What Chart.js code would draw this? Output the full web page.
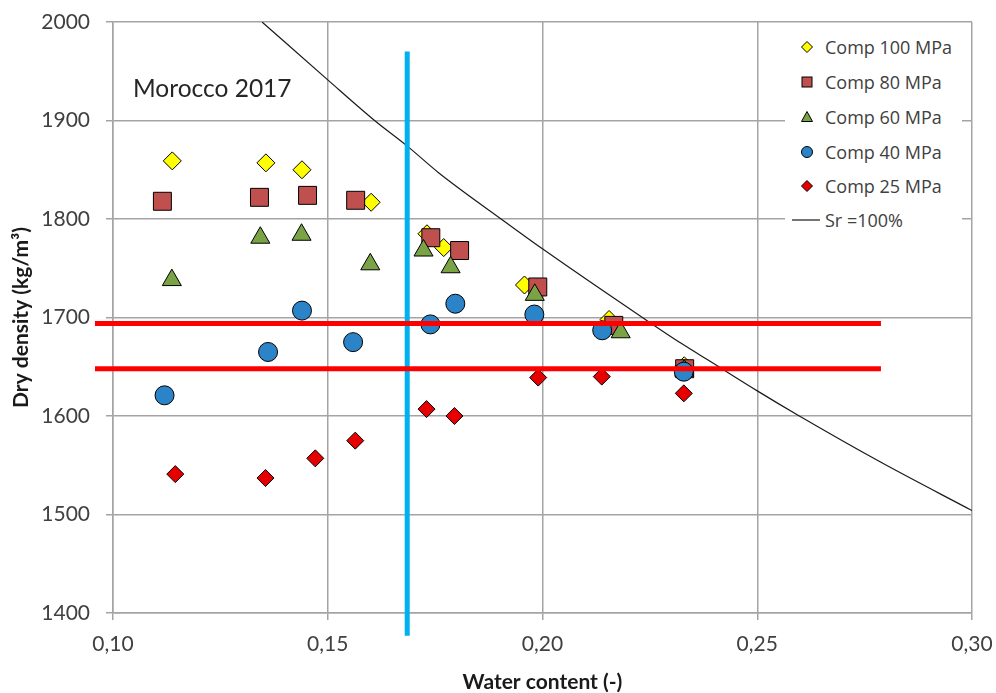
<!DOCTYPE html>
<html><head><meta charset="utf-8">
<script src="https://cdn.jsdelivr.net/npm/chart.js@4.4.1/dist/chart.umd.min.js"></script>
<style>
html,body{margin:0;padding:0;background:#fff;}
#wrap{position:relative;width:996px;height:693px;overflow:hidden;}
canvas{position:absolute;left:0;top:0;}
#note{position:absolute;left:133px;top:76px;font:24.5px Lato, sans-serif;color:#262626;line-height:24px;white-space:nowrap;}
#legend{position:absolute;left:785px;top:29px;width:177px;height:209px;background:#fff;font:18px "Open Sans",sans-serif;color:#404040;}
.row{position:absolute;left:0;height:34px;display:flex;align-items:center;white-space:nowrap;}
.row svg{width:30px;height:34px;margin-left:7px;flex:none;}
.row span{margin-left:3px;}
</style></head>
<body>
<div id="wrap">
<canvas id="c" width="996" height="693"></canvas>
<div id="note">Morocco 2017</div>
<div id="legend"></div>
</div>
<script>
// ---- data ----
const xTickValues = [0.10, 0.15, 0.20, 0.25, 0.30];
const yTickValues = [1400, 1500, 1600, 1700, 1800, 1900, 2000];
const xTitle = 'Water content (-)';
const yTitle = 'Dry density (kg/m³)';

const seriesNames = ['Comp 100 MPa', 'Comp 80 MPa', 'Comp 60 MPa', 'Comp 40 MPa', 'Comp 25 MPa'];
const curveName = 'Sr =100%';

const comp100X = [0.1138, 0.1356, 0.1440, 0.1601, 0.1731, 0.1770, 0.1958, 0.2155, 0.2330];
const comp100Y = [1859, 1857, 1850, 1817, 1785, 1771, 1733, 1698, 1651];

const comp80X = [0.1115, 0.1341, 0.1453, 0.1565, 0.1740, 0.1807, 0.1989, 0.2166, 0.2331];
const comp80Y = [1818, 1822, 1824, 1819, 1781, 1768, 1731, 1692, 1648];

const comp60X = [0.1137, 0.1343, 0.1439, 0.1599, 0.1723, 0.1786, 0.1982, 0.2182, 0.2330];
const comp60Y = [1738, 1781, 1784, 1754, 1768, 1751, 1723, 1685, 1646];

const comp40X = [0.1120, 0.1361, 0.1440, 0.1559, 0.1739, 0.1797, 0.1981, 0.2139, 0.2329];
const comp40Y = [1621, 1665, 1707, 1675, 1693, 1714, 1703, 1687, 1645];

const comp25X = [0.1145, 0.1355, 0.1471, 0.1564, 0.1730, 0.1795, 0.1990, 0.2138, 0.2329];
const comp25Y = [1541, 1537, 1557, 1575, 1607, 1600, 1639, 1640, 1623];

const srX = [0.1347, 0.1498, 0.1609, 0.1688, 0.1758, 0.1910, 0.1999, 0.2236, 0.2322, 0.2392, 0.2502, 0.2594, 0.2788, 0.3000];
const srY = [2000, 1942, 1900, 1873, 1847, 1798, 1770, 1699, 1674, 1655, 1625, 1601, 1553, 1504];

const limitUpperX = [0.0958, 0.2788];
const limitUpperY = [1694, 1694];
const limitLowerX = [0.0958, 0.2788];
const limitLowerY = [1648, 1648];
const wLineX = [0.1685, 0.1685];
const wLineY = [1377, 1970];

// ---- chart ----
function pts(xs, ys) { return xs.map((x, i) => ({x: x, y: ys[i]})); }

const styles = [
  {pointStyle: 'rectRot', radius: 9, color: '#ffff00'},
  {pointStyle: 'rect', radius: 12.7, color: '#c0504d'},
  {pointStyle: 'triangle', radius: 11, color: '#7aa346'},
  {pointStyle: 'circle', radius: 9.5, color: '#2c84c8'},
  {pointStyle: 'rectRot', radius: 8.5, color: '#e60000'}
];
const seriesData = [
  pts(comp100X, comp100Y), pts(comp80X, comp80Y), pts(comp60X, comp60Y),
  pts(comp40X, comp40Y), pts(comp25X, comp25Y)
];

const datasets = [];
datasets.push({label: 'upper', data: pts(limitUpperX, limitUpperY), showLine: true, pointRadius: 0,
  borderColor: '#ff0000', borderWidth: 5, clip: false, order: 0});
datasets.push({label: 'lower', data: pts(limitLowerX, limitLowerY), showLine: true, pointRadius: 0,
  borderColor: '#ff0000', borderWidth: 5, clip: false, order: 0});
datasets.push({label: 'w', data: pts(wLineX, wLineY), showLine: true, pointRadius: 0,
  borderColor: '#00b0f0', borderWidth: 5, clip: false, order: 1});
seriesNames.forEach((name, i) => {
  const s = styles[i];
  datasets.push({label: name, data: seriesData[i], pointStyle: s.pointStyle, pointRadius: s.radius,
    pointHoverRadius: s.radius, backgroundColor: s.color, borderColor: '#000', borderWidth: 1,
    order: 10 - i});
});
datasets.push({label: curveName, data: pts(srX, srY), showLine: true, pointRadius: 0,
  borderColor: '#1a1a1a', borderWidth: 1.2, cubicInterpolationMode: 'monotone', order: 20});

const gridColor = '#a4a4a4';
new Chart(document.getElementById('c'), {
  type: 'scatter',
  data: {datasets: datasets},
  options: {
    responsive: false,
    animation: false,
    devicePixelRatio: 1,
    layout: {padding: {left: 0, right: 24, top: 22, bottom: 0}},
    plugins: {legend: {display: false}, tooltip: {enabled: false}},
    scales: {
      x: {
        type: 'linear', min: 0.10, max: 0.30,
        afterBuildTicks: (s) => { s.ticks = xTickValues.map(v => ({value: v})); },
        afterFit: (s) => { s.height = 80; s.paddingLeft = 0; s.paddingRight = 0; },
        grid: {color: gridColor, lineWidth: 1.5, tickLength: 7, tickColor: gridColor},
        border: {color: gridColor, width: 1.5},
        ticks: {padding: 12, color: '#404040', font: {family: 'Lato', size: 21},
          callback: (v) => Number(v).toFixed(2).replace('.', ',')},
        title: {display: true, text: xTitle, color: '#1a1a1a',
          font: {family: 'Lato', size: 21, weight: 'bold', lineHeight: 1}, padding: {top: 0, bottom: 0}}
      },
      y: {
        type: 'linear', min: 1400, max: 2000,
        afterBuildTicks: (s) => { s.ticks = yTickValues.map(v => ({value: v})); },
        afterFit: (s) => { s.width = 113; s.paddingTop = 0; s.paddingBottom = 0; },
        grid: {color: gridColor, lineWidth: 1.5, tickLength: 7, tickColor: gridColor},
        border: {color: gridColor, width: 1.5},
        ticks: {padding: 16, color: '#404040', font: {family: 'Lato', size: 21},
          callback: (v) => String(v)},
        title: {display: true, text: yTitle, color: '#1a1a1a',
          font: {family: 'Lato', size: 21, weight: 'bold', lineHeight: 1}, padding: {top: 11, bottom: 0}}
      }
    }
  }
});

// ---- legend (HTML) ----
const legend = document.getElementById('legend');
const rowTops = [1, 36, 71, 106, 140, 174];
const svgShapes = [
  '<polygon points="15,11.5 20.5,17 15,22.5 9.5,17" fill="#ffff00" stroke="#000" stroke-width="1"/>',
  '<rect x="10" y="12" width="10" height="10" fill="#c0504d" stroke="#000" stroke-width="1"/>',
  '<polygon points="15,11.5 20.5,21.5 9.5,21.5" fill="#7aa346" stroke="#000" stroke-width="1"/>',
  '<circle cx="15" cy="17" r="5.5" fill="#2c84c8" stroke="#000" stroke-width="1"/>',
  '<polygon points="15,11.5 20.5,17 15,22.5 9.5,17" fill="#e60000" stroke="#000" stroke-width="1"/>',
  '<line x1="0" y1="17" x2="28" y2="17" stroke="#1a1a1a" stroke-width="1.2"/>'
];
const legendNames = seriesNames.concat([curveName]);
legendNames.forEach((name, i) => {
  const row = document.createElement('div');
  row.className = 'row';
  row.style.top = rowTops[i] + 'px';
  row.innerHTML = '<svg viewBox="0 0 30 34">' + svgShapes[i] + '</svg><span></span>';
  row.querySelector('span').textContent = name;
  legend.appendChild(row);
});
</script>
</body></html>
